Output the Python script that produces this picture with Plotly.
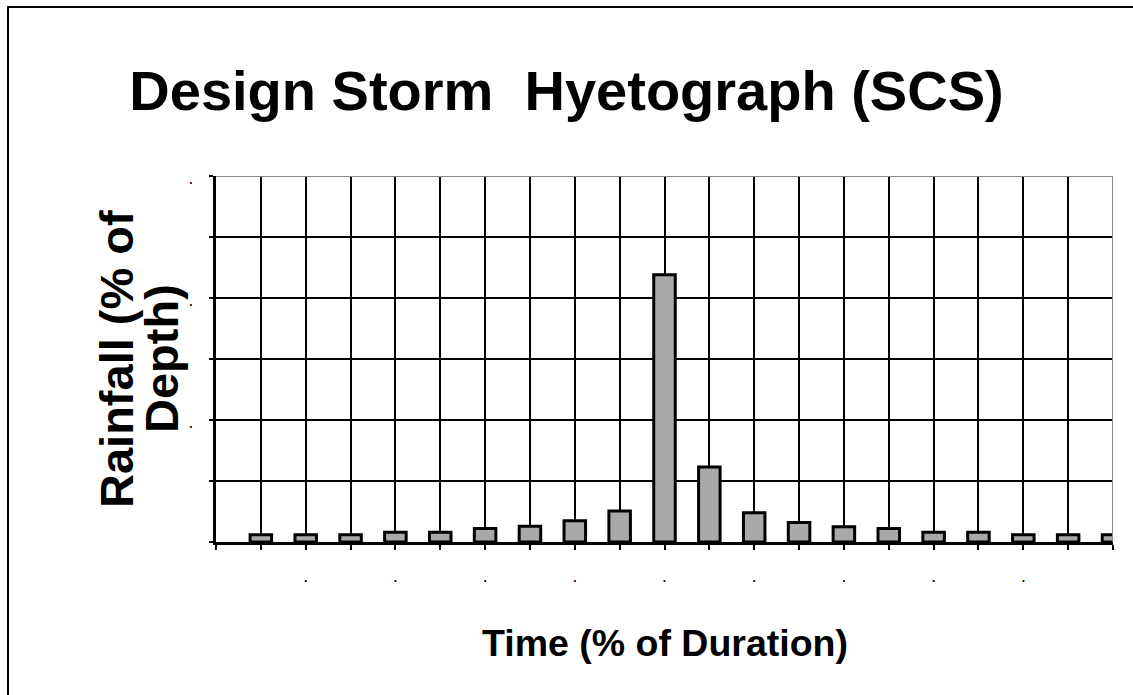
import plotly.graph_objects as go

# SCS design storm: rainfall in each 5 % time step, as % of total depth
time_pct = [5, 10, 15, 20, 25, 30, 35, 40, 45, 50,
            55, 60, 65, 70, 75, 80, 85, 90, 95, 100]
rain_pct = [1.2, 1.2, 1.2, 1.6, 1.6, 2.2, 2.6, 3.5, 5.1, 43.8,
            12.3, 4.8, 3.2, 2.5, 2.2, 1.6, 1.6, 1.2, 1.2, 1.2]

x_label_vals = [10, 20, 30, 40, 50, 60, 70, 80, 90]
x_label_text = ["."] * len(x_label_vals)
x_tick_vals = list(range(0, 101, 5))

y_label_vals = [20, 40, 60]
y_label_text = ["."] * len(y_label_vals)
y_tick_vals = list(range(0, 61, 10))

FONT = "Liberation Sans, Arial, sans-serif"

W, H = 1133, 695
L, R, T, B = 216, 20, 176, 153
pw, ph = W - L - R, H - T - B


def px_x(p):
    return (p - L) / pw


def px_y(p):
    return (H - B - p) / ph


fig = go.Figure(
    go.Bar(
        x=time_pct,
        y=rain_pct,
        width=2.4,
        marker=dict(color="#a9a9a9", line=dict(color="black", width=3)),
    )
)

fig.update_layout(
    width=W,
    height=H,
    margin=dict(l=L, r=R, t=T, b=B),
    paper_bgcolor="white",
    plot_bgcolor="white",
    showlegend=False,
    font=dict(family=FONT, color="black"),
    title=dict(
        text="Design Storm\u00a0 Hyetograph (SCS)",
        font=dict(family=FONT, size=56, weight="bold", color="black"),
        xref="container", x=0.5, xanchor="center",
        yref="container", y=1 - 90 / H, yanchor="middle",
    ),
    xaxis=dict(
        range=[0, 100],
        tickmode="array", tickvals=x_label_vals, ticktext=x_label_text,
        ticks="outside", ticklen=5, tickwidth=2, tickcolor="black",
        tickfont=dict(family=FONT, size=12, weight="bold"),
        ticklabelstandoff=18,
        showgrid=True, gridcolor="black", gridwidth=2,
        minor=dict(tickvals=x_tick_vals, ticks="outside", ticklen=5,
                   tickwidth=2, tickcolor="black",
                   showgrid=True, gridcolor="black", gridwidth=2),
        showline=True, linecolor="black", linewidth=3,
        zeroline=False,
    ),
    yaxis=dict(
        range=[0, 60],
        tickmode="array", tickvals=y_label_vals, ticktext=y_label_text,
        ticks="outside", ticklen=4, tickwidth=2, tickcolor="black",
        tickfont=dict(family=FONT, size=12, weight="bold"),
        ticklabelstandoff=14, ticklabelshift=4,
        showgrid=True, gridcolor="black", gridwidth=2,
        minor=dict(tickvals=y_tick_vals, ticks="outside", ticklen=4,
                   tickwidth=2, tickcolor="black",
                   showgrid=True, gridcolor="black", gridwidth=2),
        showline=True, linecolor="black", linewidth=3,
        zeroline=False,
    ),
    shapes=[
        # grey top and right edges of the plot area
        dict(type="line", xref="x", yref="y", x0=0, x1=100, y0=60, y1=60,
             line=dict(color="#8a8a8a", width=2), layer="above"),
        dict(type="line", xref="x", yref="y", x0=100, x1=100, y0=0, y1=60,
             line=dict(color="#8a8a8a", width=2), layer="above"),
        # outer frame around the chart
        dict(type="rect", xref="paper", yref="paper",
             x0=px_x(8), x1=px_x(W + 40), y0=px_y(H + 40), y1=px_y(7),
             line=dict(color="black", width=2), fillcolor="rgba(0,0,0,0)",
             layer="above"),
    ],
    annotations=[
        dict(text="Time (% of Duration)", xref="paper", yref="paper",
             x=0.5, y=px_y(643), xanchor="center", yanchor="middle",
             showarrow=False,
             font=dict(family=FONT, size=37.5, weight="bold", color="black")),
        dict(text="Rainfall (% of", xref="paper", yref="paper",
             x=px_x(116), y=0.5, xanchor="center", yanchor="middle",
             textangle=-90, showarrow=False,
             font=dict(family=FONT, size=47, weight="bold", color="black")),
        dict(text="Depth)", xref="paper", yref="paper",
             x=px_x(161), y=0.5, xanchor="center", yanchor="middle",
             textangle=-90, showarrow=False,
             font=dict(family=FONT, size=47, weight="bold", color="black")),
    ],
)

fig.write_html("out.html")
